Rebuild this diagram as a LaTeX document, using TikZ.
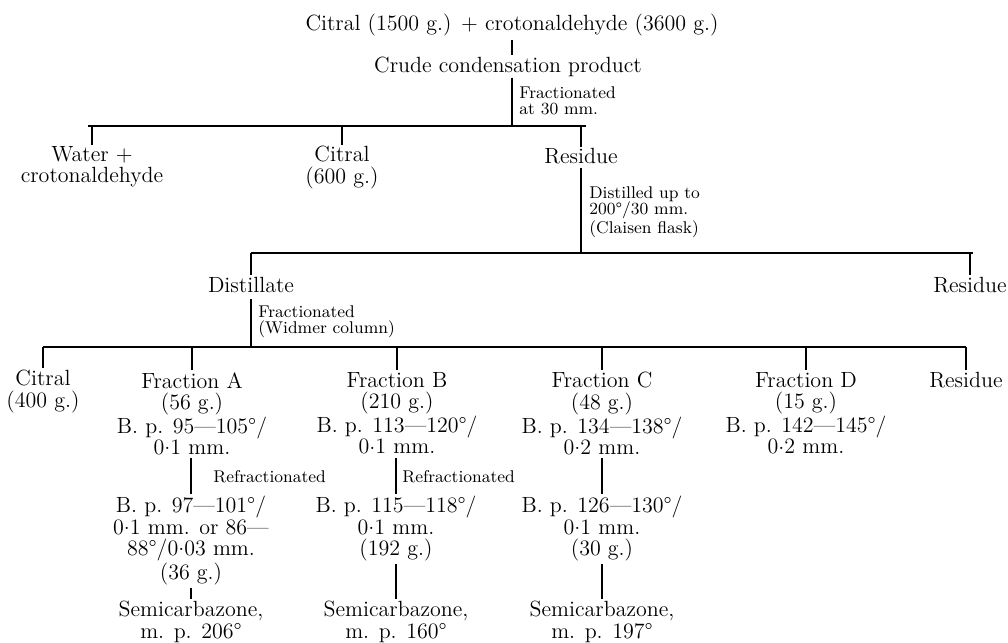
\documentclass[tikz,border=0pt]{standalone}
\usepackage{fontspec}
\newcommand\cdt{\raisebox{0.5ex}{.}}
\begin{document}
\begin{tikzpicture}[x=0.5pt,y=-0.5pt,
  main/.style={inner sep=0pt, align=center, font=\fontsize{11}{10.6}\selectfont, anchor=north},
  lab/.style={inner sep=0pt, align=left, font=\fontsize{8.5}{8.2}\selectfont, anchor=north west},
  ln/.style={line width=0.6pt},
  bar/.style={line width=0.9pt}]
\useasboundingbox (0,0) rectangle (1008,643);

% level 0
\node[main] (top) at (512,14) {Citral (1500 g.) + crotonaldehyde (3600 g.)};
\node[main] (crude) at (508,57) {Crude condensation product};
\node[lab] (l1) at (519,86) {Fractionated\\at 30 mm.};
\coordinate (j1) at (512,126);

% level 1
\node[main] (water) at (92,146) {Water +\\crotonaldehyde};
\node[main] (cit1) at (342,146) {Citral\\(600 g.)};
\node[main] (res1) at (581,148) {Residue};
\node[lab] (l2) at (589,186) {Distilled up to\\200°/30 mm.\\(Claisen flask)};
\coordinate (j2) at (581,253);

% level 2
\node[main] (dist) at (251,277) {Distillate};
\node[main] (res2) at (970,277) {Residue};
\node[lab] (l3) at (258,305) {Fractionated\\(Widmer column)};
\coordinate (j3) at (251,347);

% level 3
\node[main] (cit2) at (43,370) {Citral\\(400 g.)};
\node[main] (fa) at (192,372) {Fraction A\\(56 g.)\\B. p. 95—105°/\\0\cdt1 mm.};
\node[main] (fb) at (397,372) {Fraction B\\(210 g.)\\B. p. 113—120°/\\0\cdt1 mm.};
\node[main] (fc) at (602,372) {Fraction C\\(48 g.)\\B. p. 134—138°/\\0\cdt2 mm.};
\node[main] (fd) at (806,372) {Fraction D\\(15 g.)\\B. p. 142—145°/\\0\cdt2 mm.};
\node[main] (res3) at (966,372) {Residue};

\node[lab] (l4) at (213,470) {Refractionated};
\node[lab] (l5) at (402,470) {Refractionated};

% level 4
\node[main] (ba) at (191,496) {B. p. 97—101°/\\0\cdt1 mm. or 86—\\88°/0\cdt03 mm.\\(36 g.)};
\node[main] (bb) at (396,496) {B. p. 115—118°/\\0\cdt1 mm.\\(192 g.)};
\node[main] (bc) at (602,496) {B. p. 126—130°/\\0\cdt1 mm.\\(30 g.)};

% level 5
\node[main] (sa) at (191,601) {Semicarbazone,\\m. p. 206°};
\node[main] (sb) at (396,601) {Semicarbazone,\\m. p. 160°};
\node[main] (sc) at (602,601) {Semicarbazone,\\m. p. 197°};

% connectors
\draw[ln, shorten <=1.5pt, shorten >=1pt] (top.south -| j1) -- (crude.north -| j1);
\draw[ln] (crude.south -| j1) -- (j1);
\draw[bar] (88,126) -- (586,126);
\draw[ln, shorten >=0.5pt] (water.north |- j1) -- (water.north);
\draw[ln, shorten >=0.5pt] (cit1.north |- j1) -- (cit1.north);
\draw[ln, shorten >=0.5pt] (res1.north |- j1) -- (res1.north);

\draw[ln, shorten <=1.5pt] (res1.south) -- (j2);
\draw[bar] (251,253) -- (973,253);
\draw[ln, shorten >=1pt] (dist.north |- j2) -- (dist.north);
\draw[ln, shorten >=1pt] (res2.north |- j2) -- (res2.north);

\draw[ln, shorten <=3pt] (dist.south) -- (j3);
\draw[bar] (43,347) -- (966,347);
\draw[ln, shorten >=1pt] (cit2.north |- j3) -- (cit2.north);
\draw[ln, shorten >=1pt] (fa.north |- j3) -- (fa.north);
\draw[ln, shorten >=1pt] (fb.north |- j3) -- (fb.north);
\draw[ln, shorten >=1pt] (fc.north |- j3) -- (fc.north);
\draw[ln, shorten >=1pt] (fd.north |- j3) -- (fd.north);
\draw[ln, shorten >=1pt] (res3.north |- j3) -- (res3.north);

\draw[ln, shorten <=1.5pt, shorten >=1pt] (fa.south -| ba.north) -- (ba.north);
\draw[ln, shorten <=1.5pt, shorten >=1pt] (fb.south -| bb.north) -- (bb.north);
\draw[ln, shorten <=1.5pt, shorten >=1pt] (fc.south -| bc.north) -- (bc.north);

\draw[ln, shorten <=1.5pt, shorten >=1pt] (ba.south) -- (sa.north);
\draw[ln, shorten <=1.5pt, shorten >=1pt] (bb.south) -- (sb.north);
\draw[ln, shorten <=1.5pt, shorten >=1pt] (bc.south) -- (sc.north);
\end{tikzpicture}
\end{document}
